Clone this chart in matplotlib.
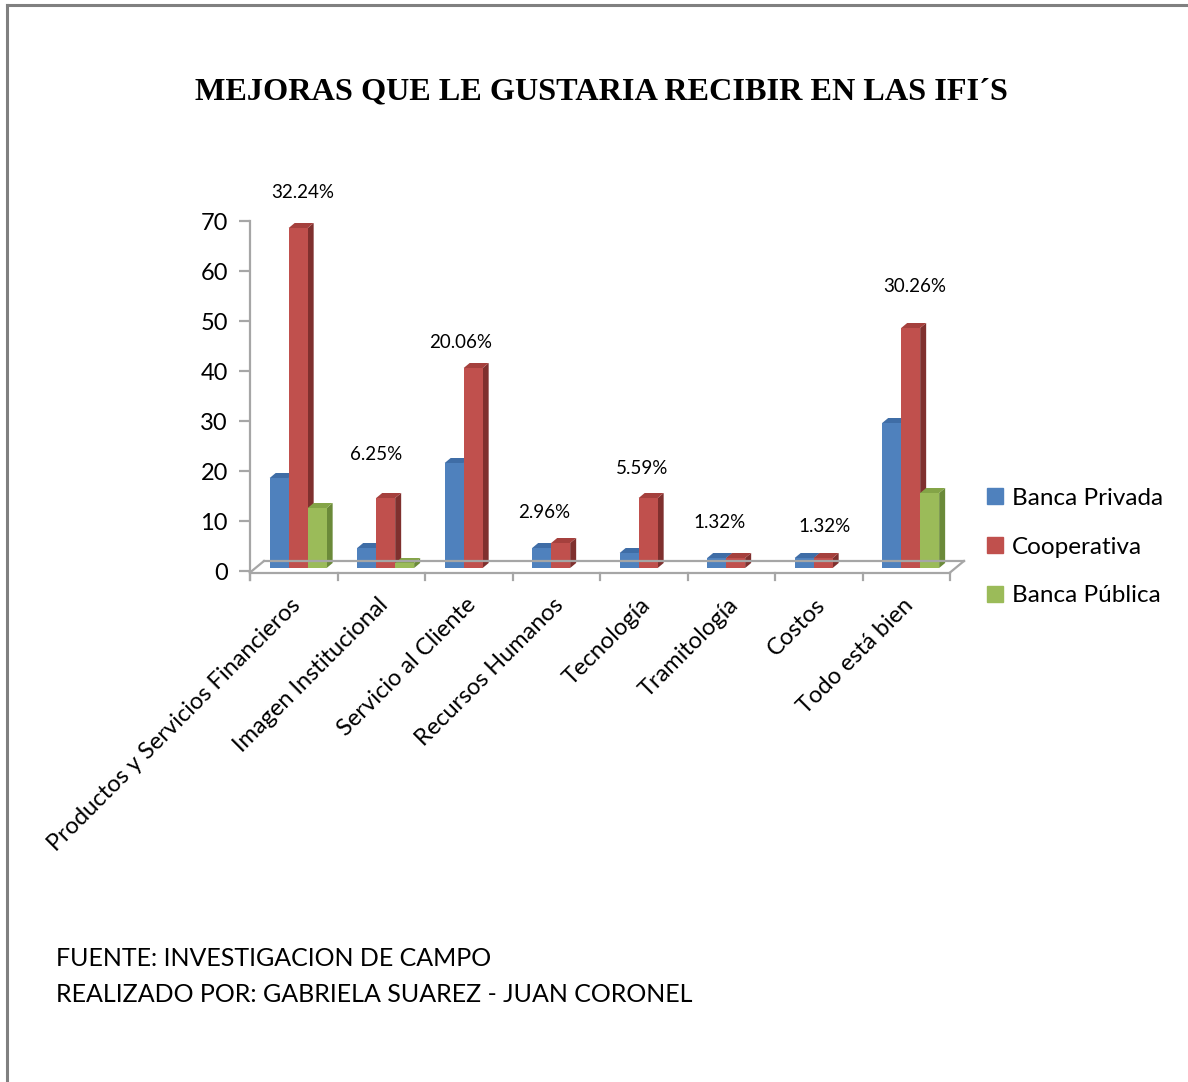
import matplotlib
matplotlib.use("Agg")
import matplotlib.pyplot as plt
from matplotlib.patches import Polygon, Rectangle
from matplotlib.lines import Line2D

# ---------------- data ----------------
categories = ["Productos y Servicios Financieros", "Imagen Institucional",
              "Servicio al Cliente", "Recursos Humanos", "Tecnología",
              "Tramitología", "Costos", "Todo está bien"]
series_names = ["Banca Privada", "Cooperativa", "Banca Pública"]
banca_privada = [18, 4, 21, 4, 3, 2, 2, 29]
cooperativa = [68, 14, 40, 5, 14, 2, 2, 48]
banca_publica = [12, 1, 0, 0, 0, 0, 0, 15]
percent_labels = ["32.24%", "6.25%", "20.06%", "2.96%", "5.59%", "1.32%", "1.32%", "30.26%"]
y_ticks = [0, 10, 20, 30, 40, 50, 60, 70]

title = "MEJORAS QUE LE GUSTARIA RECIBIR EN LAS IFI´S"
footer_lines = ["FUENTE: INVESTIGACION DE CAMPO",
                "REALIZADO POR: GABRIELA SUAREZ - JUAN CORONEL"]

# ---------------- style ----------------
FONT = ["Lato", "DejaVu Sans"]
front_c = ["#4F81BD", "#C0504D", "#9BBB59"]
side_c = ["#385D8A", "#7F302E", "#6B8A39"]
top_c = ["#3F6DA6", "#A5403D", "#84A447"]
AX_GRAY = "#A6A6A6"

W, H = 1188, 1082
fig = plt.figure(figsize=(W / 100, H / 100), dpi=100)
fig.patch.set_facecolor("white")

def fx(x):
    return x / W

def fy(y):
    return 1 - y / H

# page frame (top and left edges visible)
fig.add_artist(Line2D([fx(7), fx(7)], [fy(5), 0], color="#808080", lw=2.2))
fig.add_artist(Line2D([fx(7), 1], [fy(5), fy(5)], color="#808080", lw=2.2))

ax = fig.add_axes([fx(250), fy(571), 700 / W, 350 / H])
ax.set_xlim(0, len(categories))
ax.set_ylim(0, 70)
for s in ax.spines.values():
    s.set_visible(False)
ax.patch.set_alpha(0)

# 3D geometry (in data units)
px_x = len(categories) / 700.0
px_y = 70 / 350.0
DX = 6 * px_x
DY = 5 * px_y
LIFT = 0.6
BAR_W = 0.217
GROUP_OFF = 0.225

# floor
front_y, back_y = -0.3, 2.0
fl = 0.16
ax.add_line(Line2D([0, 8], [front_y, front_y], color=AX_GRAY, lw=1.6, clip_on=False))
ax.add_line(Line2D([fl, 8 + fl], [back_y, back_y], color=AX_GRAY, lw=1.6, clip_on=False))
ax.add_line(Line2D([0, fl], [front_y, back_y], color=AX_GRAY, lw=1.6, clip_on=False))
ax.add_line(Line2D([8, 8 + fl], [front_y, back_y], color=AX_GRAY, lw=1.6, clip_on=False))
ax.add_line(Line2D([0, 0], [-1.8, 70], color=AX_GRAY, lw=1.6, clip_on=False))
for k in range(len(categories) + 1):
    ax.add_line(Line2D([k, k], [front_y, -1.8], color=AX_GRAY, lw=1.6, clip_on=False))

# bars
series = [banca_privada, cooperativa, banca_publica]
for i in range(len(categories)):
    for j, vals in enumerate(series):
        v = vals[i]
        if v <= 0:
            continue
        x0 = i + GROUP_OFF + j * BAR_W
        b = LIFT
        t = v + LIFT
        ax.add_patch(Polygon([(x0 + BAR_W, b), (x0 + BAR_W + DX, b + DY),
                              (x0 + BAR_W + DX, t + DY), (x0 + BAR_W, t)],
                             closed=True, fc=side_c[j], ec="none", clip_on=False))
        ax.add_patch(Polygon([(x0, t), (x0 + DX, t + DY), (x0 + BAR_W + DX, t + DY),
                              (x0 + BAR_W, t)],
                             closed=True, fc=top_c[j], ec="none", clip_on=False))
        ax.add_patch(Rectangle((x0, b), BAR_W, v, fc=front_c[j], ec="none", clip_on=False))

# percentage labels (offsets in px relative to group centre / tallest bar)
label_nudge = [(5, 39), (-10, 46), (-13, 28), (-16, 33), (-6, 32), (-16, 38), (1, 34), (4, 44)]
for i, lab in enumerate(percent_labels):
    mx = max(s[i] for s in series)
    cx = i + GROUP_OFF + 1.5 * BAR_W + label_nudge[i][0] * px_x
    cy = mx + label_nudge[i][1] * px_y
    ax.text(cx, cy, lab, ha="center", va="center", fontsize=13.5, family=FONT, color="black")

# y ticks
ax.set_yticks(y_ticks)
ax.set_yticklabels([str(t) for t in y_ticks], family=FONT, fontsize=17)
ax.tick_params(axis="y", length=8, width=1.6, color=AX_GRAY, pad=8)

# category labels
ax.set_xticks([i + GROUP_OFF + 1.5 * BAR_W - 0.01 for i in range(len(categories))])
ax.set_xticklabels(categories, rotation=45, ha="right", va="center",
                   rotation_mode="anchor", family=FONT, fontsize=17)
ax.tick_params(axis="x", length=0, pad=22)

# legend
handles = [Line2D([], [], marker="s", linestyle="none", markersize=11,
                  markerfacecolor=c, markeredgecolor=c) for c in front_c]
fig.legend(handles, series_names, loc="center left",
           bbox_to_anchor=(fx(973), fy(547)), frameon=False,
           prop={"family": FONT, "size": 17.5}, handletextpad=0.2,
           labelspacing=1.15, handlelength=1.0, borderaxespad=0)

# title
fig.text(fx(601), fy(92), title, ha="center", va="center",
         family=["Liberation Serif", "DejaVu Serif"], fontweight="bold", fontsize=23.2)

# footer
fig.text(fx(56), fy(958), footer_lines[0], ha="left", va="center", family=FONT, fontsize=18)
fig.text(fx(56), fy(994), footer_lines[1], ha="left", va="center", family=FONT, fontsize=18)

fig.savefig("out.png", dpi=100, facecolor="white")
